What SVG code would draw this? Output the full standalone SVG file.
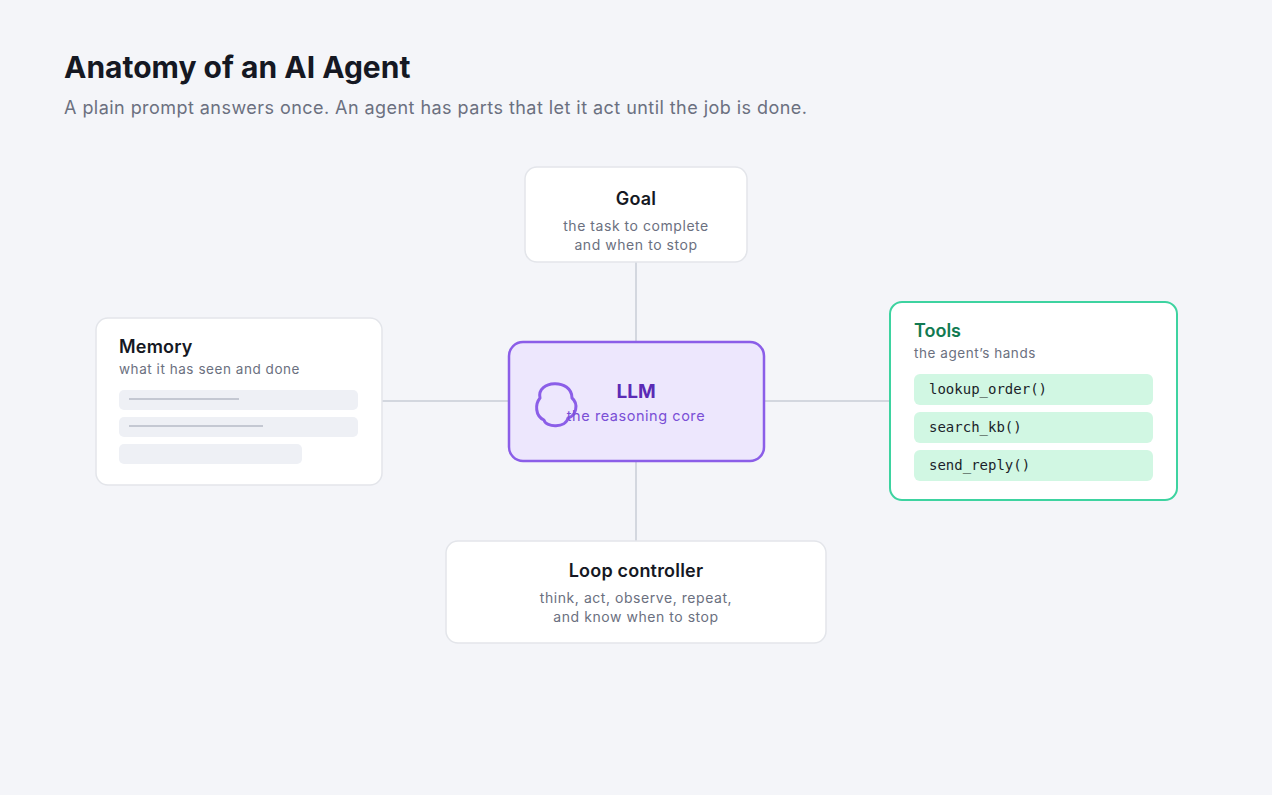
<svg xmlns="http://www.w3.org/2000/svg" width="1272" height="795" viewBox="0 0 1272 795">
<style>
text{font-family:Inter,"Noto Sans",sans-serif}
.card{fill:#fff;stroke:#e3e5ea;stroke-width:1.5}
.t{font-size:18px;font-weight:600;fill:#151823;letter-spacing:0.2px}
.s{font-size:14px;fill:#6b7080;letter-spacing:0.55px}
.mono{font-family:"DejaVu Sans Mono","Liberation Mono",monospace;font-size:14px;fill:#1b1f2a}
.line{stroke:#c9ccd6;stroke-width:1.5;fill:none}
.pill{fill:#d1f7e3}
.mem{fill:#eef0f5}
.bar{stroke:#c4c8d2;stroke-width:2}
</style>
<rect width="1272" height="795" fill="#f4f5f9"/>
<text x="64" y="78" style="font-size:30px;font-weight:700;fill:#151823">Anatomy of an AI Agent</text>
<text x="64" y="114" style="font-size:18px;fill:#6b7080;letter-spacing:0.45px">A plain prompt answers once. An agent has parts that let it act until the job is done.</text>
<g id="connectors">
<line class="line" x1="636" y1="262" x2="636" y2="342"/>
<line class="line" x1="636" y1="461" x2="636" y2="541"/>
<line class="line" x1="382" y1="401" x2="509" y2="401"/>
<line class="line" x1="764" y1="401" x2="890" y2="401"/>
</g>
<g id="goal">
<rect class="card" x="525" y="167" width="222" height="95" rx="12"/>
<text class="t" x="636" y="205" text-anchor="middle">Goal</text>
<text class="s" x="636" y="231" text-anchor="middle">the task to complete</text>
<text class="s" x="636" y="250" text-anchor="middle">and when to stop</text>
</g>
<g id="memory">
<rect class="card" x="96" y="318" width="286" height="167" rx="12"/>
<text class="t" x="119" y="353">Memory</text>
<text class="s" x="119" y="374" style="font-size:13.5px">what it has seen and done</text>
<rect class="mem" x="119" y="390" width="239" height="20" rx="5"/>
<line class="bar" x1="129" y1="399" x2="239" y2="399"/>
<rect class="mem" x="119" y="417" width="239" height="20" rx="5"/>
<line class="bar" x1="129" y1="426" x2="263" y2="426"/>
<rect class="mem" x="119" y="444" width="183" height="20" rx="5"/>
</g>
<g id="llm">
<rect x="509" y="342" width="255" height="119" rx="14" fill="#ede7fd" stroke="#8b5ee8" stroke-width="2.5"/>
<path d="M540 398 C536 380 572 378 572 398 C579 404 576 416 568 418 C566 428 546 428 544 420 C535 416 535 404 540 398 Z" fill="none" stroke="#8b5ee8" stroke-width="3" stroke-linejoin="round"/>
<text x="636" y="398" text-anchor="middle" style="font-size:19px;font-weight:700;fill:#5b2bb5">LLM</text>
<text x="636" y="421" text-anchor="middle" style="font-size:14.5px;fill:#7a4fd6;letter-spacing:0.55px">the reasoning core</text>
</g>
<g id="tools">
<rect x="890" y="302" width="287" height="198" rx="12" fill="#fff" stroke="#3dd3a0" stroke-width="2"/>
<text x="914" y="337" style="font-size:18px;font-weight:600;fill:#127a52">Tools</text>
<text class="s" x="914" y="358" style="font-size:13.5px">the agent’s hands</text>
<rect class="pill" x="914" y="374" width="239" height="31" rx="6"/>
<text class="mono" x="929" y="394">lookup_order()</text>
<rect class="pill" x="914" y="412" width="239" height="31" rx="6"/>
<text class="mono" x="929" y="432">search_kb()</text>
<rect class="pill" x="914" y="450" width="239" height="31" rx="6"/>
<text class="mono" x="929" y="470">send_reply()</text>
</g>
<g id="loop">
<rect class="card" x="446" y="541" width="380" height="102" rx="12"/>
<text class="t" x="636" y="577" text-anchor="middle">Loop controller</text>
<text class="s" x="636" y="603" text-anchor="middle">think, act, observe, repeat,</text>
<text class="s" x="636" y="622" text-anchor="middle">and know when to stop</text>
</g>
</svg>
